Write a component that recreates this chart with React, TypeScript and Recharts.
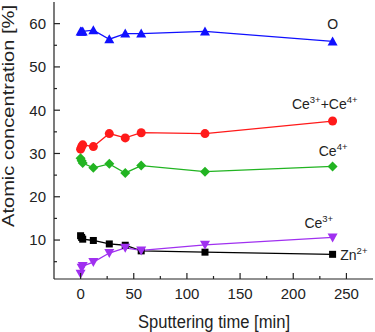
import React from "react";
import {
  LineChart,
  Line,
  XAxis,
  YAxis,
  ReferenceDot
} from "recharts";

// sputtering times [min]
const times = [0, 1, 2, 12, 27, 42, 57, 117, 237];

// atomic concentrations [%]
const oxygen = [58.2, 58.1, 58.2, 58.5, 56.4, 57.7, 57.7, 58.2, 55.9];
const ceTotal = [31.0, 31.6, 32.0, 31.6, 34.6, 33.6, 34.8, 34.6, 37.5];
const ce4 = [28.9, 28.3, 27.8, 26.7, 27.6, 25.5, 27.2, 25.8, 27.0];
const ce3 = [2.2, 3.6, 4.0, 4.9, 7.0, 8.2, 7.6, 8.9, 10.6];
const zn = [11.0, 10.6, 10.2, 9.9, 9.1, 8.8, 7.5, 7.2, 6.7];

const xTicks = [0, 25, 50, 75, 100, 125, 150, 175, 200, 225, 250];
const yTicks = [5, 10, 15, 20, 25, 30, 35, 40, 45, 50, 55, 60];

// series annotations: [base, superscript, ...]
const seriesLabels = [
  { id: "o", parts: [["O", ""]] },
  { id: "ceTotal", parts: [["Ce", "3+"], ["+Ce", "4+"]] },
  { id: "ce4", parts: [["Ce", "4+"]] },
  { id: "ce3", parts: [["Ce", "3+"]] },
  { id: "zn", parts: [["Zn", "2+"]] }
];
// where each annotation sits, in data units
const labelX = [237, 229.6, 237.5, 224, 257];
const labelY = [58.8, 40.35, 29.4, 12.7, 5.4];

const data = times.map((t, i) => ({
  t,
  o: oxygen[i],
  ceTotal: ceTotal[i],
  ce4: ce4[i],
  ce3: ce3[i],
  zn: zn[i]
}));

const INK = "#222";
const FONT = "'Liberation Sans', Arial, sans-serif";

const XTick = (props: any) => {
  const { x, y, payload } = props;
  const major = payload.value % 50 === 0;
  return (
    <g>
      <line x1={x} x2={x} y1={y} y2={y - (major ? 6 : 3)} stroke={INK} strokeWidth={1.2} />
      {major && (
        <text x={x} y={y + 19.5} textAnchor="middle" fontSize={15} fill={INK} fontFamily={FONT}>
          {payload.value}
        </text>
      )}
    </g>
  );
};

const YTick = (props: any) => {
  const { x, y, payload } = props;
  const major = payload.value % 10 === 0;
  return (
    <g>
      <line x1={x} x2={x + (major ? 6 : 3)} y1={y} y2={y} stroke={INK} strokeWidth={1.2} />
      {major && (
        <text x={x - 8} y={y + 5.4} textAnchor="end" fontSize={15} fill={INK} fontFamily={FONT}>
          {payload.value}
        </text>
      )}
    </g>
  );
};

const XTitle = () => (
  <text
    x={214}
    y={328}
    textAnchor="middle"
    fontSize={18}
    fill={INK}
    fontFamily={FONT}
    textLength={152}
    lengthAdjust="spacingAndGlyphs"
  >
    Sputtering time [min]
  </text>
);

const YTitle = () => (
  <text
    x={14}
    y={116}
    transform="rotate(-90 14 116)"
    textAnchor="middle"
    fontSize={16.5}
    fill={INK}
    fontFamily={FONT}
    textLength={222}
    lengthAdjust="spacingAndGlyphs"
  >
    Atomic concentration [%]
  </text>
);

const makeLabel = (parts: string[][]) => (props: any) => {
  const vb = props.viewBox || {};
  const cx = vb.x + (vb.width || 0) / 2;
  const cy = vb.y + (vb.height || 0) / 2;
  return (
    <text x={cx} y={cy} textAnchor="middle" fontSize={14} fill={INK} fontFamily={FONT}>
      {parts.map(([base, sup], i) => (
        <React.Fragment key={i}>
          <tspan dy={i > 0 && parts[i - 1][1] ? 6 : 0}>{base}</tspan>
          {sup && (
            <tspan dy={-6} fontSize={9.5}>
              {sup}
            </tspan>
          )}
        </React.Fragment>
      ))}
    </text>
  );
};

const triUp = (color: string) => (p: any) => {
  const { cx, cy, index } = p;
  if (cx == null || cy == null) return <g key={index} />;
  return (
    <path key={index} d={`M${cx},${cy - 5}L${cx + 5},${cy + 4}L${cx - 5},${cy + 4}Z`} fill={color} />
  );
};
const triDown = (color: string) => (p: any) => {
  const { cx, cy, index } = p;
  if (cx == null || cy == null) return <g key={index} />;
  return (
    <path key={index} d={`M${cx - 5},${cy - 4}L${cx + 5},${cy - 4}L${cx},${cy + 5}Z`} fill={color} />
  );
};
const circle = (color: string) => (p: any) => {
  const { cx, cy, index } = p;
  if (cx == null || cy == null) return <g key={index} />;
  return <circle key={index} cx={cx} cy={cy} r={4.5} fill={color} />;
};
const diamond = (color: string) => (p: any) => {
  const { cx, cy, index } = p;
  if (cx == null || cy == null) return <g key={index} />;
  return (
    <path key={index} d={`M${cx},${cy - 5}L${cx + 5},${cy}L${cx},${cy + 5}L${cx - 5},${cy}Z`} fill={color} />
  );
};
const square = (color: string) => (p: any) => {
  const { cx, cy, index } = p;
  if (cx == null || cy == null) return <g key={index} />;
  return <rect key={index} x={cx - 3.5} y={cy - 3.5} width={7} height={7} fill={color} />;
};

const BLUE = "#1010ff";
const RED = "#ff1a1a";
const GREEN = "#22b422";
const PURPLE = "#a030f0";
const BLACK = "#000000";

export default function App() {
  return (
    <div style={{ position: "absolute", left: 0, top: 0, background: "#fff" }}>
      <LineChart
        width={375}
        height={332}
        data={data}
        margin={{ top: 2, right: 2, bottom: 0, left: 0 }}
        style={{ fontFamily: FONT }}
      >
        <XAxis
          xAxisId="main"
          dataKey="t"
          type="number"
          domain={[-25, 275]}
          ticks={xTicks}
          interval={0}
          height={53}
          tickSize={0}
          tickMargin={0}
          tickLine={false}
          tick={XTick}
          axisLine={{ stroke: INK, strokeWidth: 1.2 }}
          allowDataOverflow
          label={<XTitle />}
        />
        <XAxis
          xAxisId="top"
          orientation="top"
          dataKey="t"
          type="number"
          domain={[-25, 275]}
          height={0}
          tick={false}
          tickLine={false}
          axisLine={{ stroke: INK, strokeWidth: 1.2 }}
        />
        <YAxis
          yAxisId="main"
          type="number"
          domain={[1, 65]}
          ticks={yTicks}
          interval={0}
          width={54}
          tickSize={0}
          tickMargin={0}
          tickLine={false}
          tick={YTick}
          axisLine={{ stroke: INK, strokeWidth: 1.2 }}
          allowDataOverflow
          label={<YTitle />}
        />
        <YAxis
          yAxisId="right"
          orientation="right"
          type="number"
          domain={[1, 65]}
          width={0}
          tick={false}
          tickLine={false}
          axisLine={{ stroke: INK, strokeWidth: 1.2 }}
        />

        <Line xAxisId="main" yAxisId="main" type="linear" dataKey="o" stroke={BLUE} strokeWidth={1.3}
          dot={triUp(BLUE)} activeDot={false} isAnimationActive={false} />
        <Line xAxisId="main" yAxisId="main" type="linear" dataKey="ceTotal" stroke={RED} strokeWidth={1.3}
          dot={circle(RED)} activeDot={false} isAnimationActive={false} />
        <Line xAxisId="main" yAxisId="main" type="linear" dataKey="ce4" stroke={GREEN} strokeWidth={1.3}
          dot={diamond(GREEN)} activeDot={false} isAnimationActive={false} />
        <Line xAxisId="main" yAxisId="main" type="linear" dataKey="zn" stroke={BLACK} strokeWidth={1.3}
          dot={square(BLACK)} activeDot={false} isAnimationActive={false} />
        <Line xAxisId="main" yAxisId="main" type="linear" dataKey="ce3" stroke={PURPLE} strokeWidth={1.3}
          dot={triDown(PURPLE)} activeDot={false} isAnimationActive={false} />

        {seriesLabels.map((s, i) => (
          <ReferenceDot
            key={s.id}
            xAxisId="main"
            yAxisId="main"
            x={labelX[i]}
            y={labelY[i]}
            r={0}
            fill="none"
            stroke="none"
            label={makeLabel(s.parts)}
          />
        ))}
      </LineChart>
    </div>
  );
}
